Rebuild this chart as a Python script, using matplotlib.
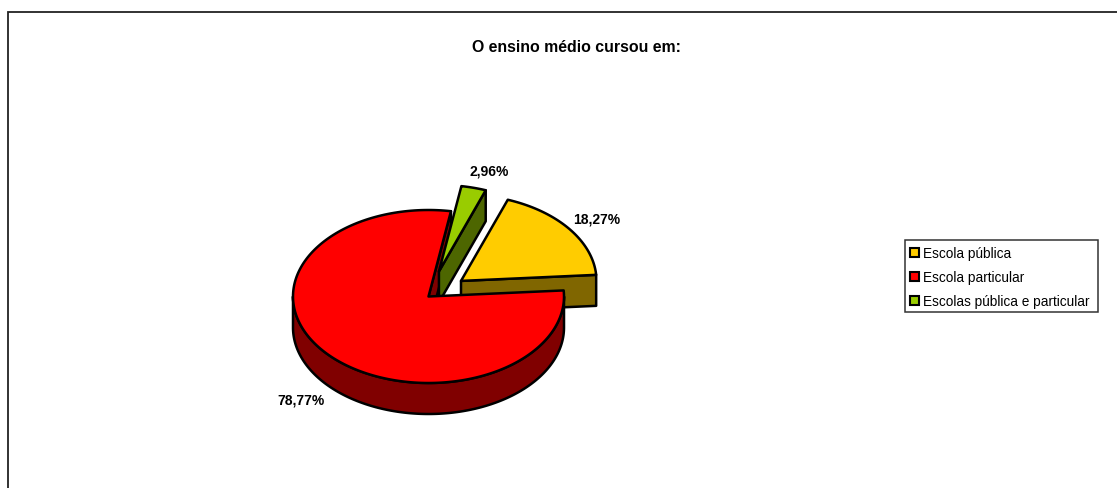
#!/usr/bin/env python3
import matplotlib
matplotlib.use("Agg")
import matplotlib.pyplot as plt
from matplotlib.patches import Polygon, Rectangle
import numpy as np

categories = ["Escola pública", "Escola particular", "Escolas pública e particular"]
shares = [18.27, 78.77, 2.96]
share_labels = ["18,27%", "78,77%", "2,96%"]
top_colors = ["#FFCC00", "#FF0000", "#99CC00"]
side_colors = ["#806600", "#800000", "#4D6600"]
explode = [0.3, 0.0, 0.3]

# pie geometry in image pixels
cx, cy = 428.5, 297.5
rx, ry = 135.5, 86.5
depth = 31
first_angle = 20.2

plt.rcParams['font.family'] = ['Liberation Sans', 'DejaVu Sans']

fig = plt.figure(figsize=(11.17, 4.89), dpi=100)
ax = fig.add_axes([0, 0, 1, 1])
ax.set_xlim(0, 1117)
ax.set_ylim(489, 0)
ax.axis('off')

# slice angles, clockwise from the top
ends = first_angle + np.cumsum(shares) * 3.6
starts = ends - np.array(shares) * 3.6


def rim(a0, a1, x0, y0):
    t = np.radians(np.linspace(a0, a1, 200))
    return np.column_stack([x0 + rx * np.sin(t), y0 - ry * np.cos(t)])


def center(i):
    mid = np.radians((starts[i] + ends[i]) / 2)
    return cx + explode[i] * rx * np.sin(mid), cy - explode[i] * ry * np.cos(mid)


def draw(points, color, z):
    ax.add_patch(Polygon(points, closed=True, facecolor=color, edgecolor='black',
                         linewidth=1.8, joinstyle='round', zorder=z))


def cut_wall(i, angle, z):
    x0, y0 = center(i)
    tip = rim(angle, angle, x0, y0)[0]
    draw([(x0, y0), tip, (tip[0], tip[1] + depth), (x0, y0 + depth)], side_colors[i], z)


def top_face(i, z):
    x0, y0 = center(i)
    draw(np.vstack([[(x0, y0)], rim(starts[i], ends[i], x0, y0)]), top_colors[i], z)


# back to front: yellow, cut face of red, green, then the red body
cut_wall(0, ends[0], 1)
top_face(0, 2)
cut_wall(1, ends[1], 3)
cut_wall(2, ends[2], 4)
top_face(2, 5)

front = rim(90, 270, cx, cy)
draw(np.vstack([front, (front + [0, depth])[::-1]]), side_colors[1], 6)
top_face(1, 7)

# frame, open on the right and at the bottom
ax.plot([8, 8, 1117], [489, 12.5, 12.5], color='#222222', lw=1.3, zorder=0,
        solid_joinstyle='miter')

ax.text(576, 47.5, "O ensino médio cursou em:", ha='center', va='center',
        fontsize=11.4, fontweight='bold')

label_x = [597, 301, 489]
label_y = [219.5, 400.5, 172]
for txt, x, y in zip(share_labels, label_x, label_y):
    ax.text(x, y, txt, ha='center', va='center', fontsize=10, fontweight='bold')

# legend
ax.add_patch(Rectangle((905, 241), 193, 72, facecolor='white', edgecolor='#333333', lw=1.1))
legend_y = [253, 277, 301]
for name, color, y in zip(categories, top_colors, legend_y):
    ax.add_patch(Rectangle((909.5, y - 4.5), 9, 9, facecolor=color, edgecolor='black', lw=1.5))
    ax.text(923, y + 1, name, ha='left', va='center', fontsize=9.85)

fig.savefig("out.png", dpi=100, facecolor='white')
